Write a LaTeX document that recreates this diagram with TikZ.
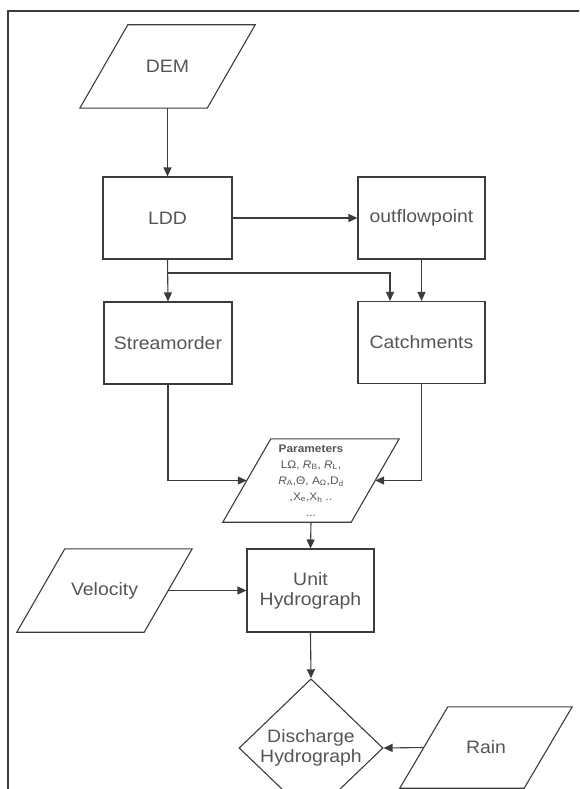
\documentclass[tikz,border=0pt]{standalone}
\usepackage{fontspec}
\setmainfont[FakeStretch=1.08]{Liberation Sans}
\usetikzlibrary{shapes.geometric,arrows.meta}
\definecolor{ln}{HTML}{3C3C3C}
\definecolor{tx}{HTML}{555555}
\newcommand{\drawpara}[1]{\draw[ln,line width=1.1pt,line join=miter] ([xshift=24pt]#1.north west) -- ([xshift=24pt]#1.north east) -- ([xshift=-24pt]#1.south east) -- ([xshift=-24pt]#1.south west) -- cycle;}
\begin{document}
\begin{tikzpicture}[x=1pt,y=-1pt,
  box/.style={draw=ln,line width=1.1pt,minimum width=128pt,minimum height=82pt,inner sep=0pt,text=tx,font=\fontsize{18}{20}\selectfont,align=center},
  para/.style={rectangle,minimum width=127pt,minimum height=83pt,inner sep=0pt,text=tx,font=\fontsize{18}{20}\selectfont,align=center},
  dia/.style={diamond,draw=ln,line width=1.1pt,minimum width=144pt,minimum height=92pt,inner sep=0pt,text=tx,font=\fontsize{18}{20}\selectfont,align=center},
  arr/.style={draw=ln,line width=1.1pt,-{Triangle[length=9pt,width=8pt]}},
  ]
\useasboundingbox (0,0) rectangle (579,789);
\begin{scope}
\clip (0,0) rectangle (579,789);
\draw[line width=1.5pt,draw=ln] (8,800) -- (8,11) -- (590,11);
\node[para] (dem) at (167.5,66.5) {DEM};
\node[box,minimum width=129pt] (ldd) at (167.5,218) {LDD};
\node[box,minimum width=127pt] (out) at (421.5,218) {outflowpoint};
\node[box] (stream) at (168,343) {Streamorder};
\node[box,minimum width=127pt] (catch) at (421.5,342.5) {Catchments};
\node[para,minimum width=128pt,font=\fontsize{11}{16}\selectfont] (params) at (311,480.5)
  {\textbf{Parameters}\\LΩ, \textit{R}\textsubscript{B}, \textit{R}\textsubscript{L},\\
   \textit{R}\textsubscript{A},Θ, A\textsubscript{Ω},D\textsubscript{d}\\
   ,X\textsubscript{e},X\textsubscript{h} ..\\...};
\node[box,minimum width=127pt,minimum height=83pt] (unit) at (310.5,590.5) {Unit\\Hydrograph};
\node[para] (vel) at (104.5,590.5) {Velocity};
\node[dia] (dis) at (311,748) {Discharge\\Hydrograph};
\node[para,minimum width=124pt,minimum height=81pt] (rain) at (486,747.5) {Rain};
\drawpara{dem}
\drawpara{params}
\drawpara{vel}
\drawpara{rain}
\coordinate (j) at (390,273);
\draw[arr] (dem.south) -- (ldd.north);
\draw[arr] (ldd.east) -- (out.west);
\draw[arr] (ldd.south) -- (stream.north);
\draw[arr] (ldd.south) |- (j) -- (j |- catch.north);
\draw[arr] (out.south) -- (catch.north);
\draw[arr] (stream.south) |- (params.west);
\draw[arr] (catch.south) |- (params.east);
\draw[arr] (params.south) -- (unit.north);
\draw[arr] (vel.east) -- (unit.west);
\draw[arr] (unit.south) -- (dis.north);
\draw[arr] (rain.west) -- (dis.east);
\end{scope}
\end{tikzpicture}
\end{document}
